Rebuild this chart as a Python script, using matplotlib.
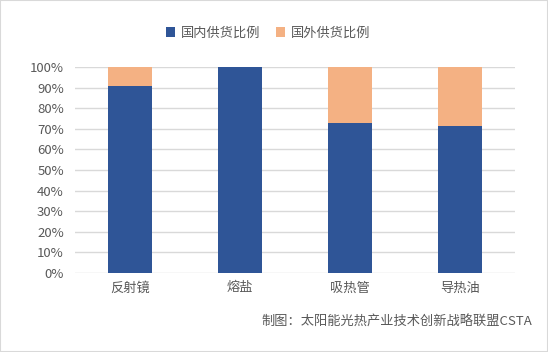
import matplotlib
matplotlib.use("Agg")
import matplotlib.pyplot as plt
from matplotlib.patches import Rectangle
from matplotlib.ticker import PercentFormatter

plt.rcParams['font.family'] = ['Noto Sans CJK SC', 'DejaVu Sans']

categories = ['反射镜', '熔盐', '吸热管', '导热油']
domestic = [91, 100, 73, 71.5]
foreign = [9, 0, 27, 28.5]
legend_labels = ['国内供货比例', '国外供货比例']

blue = '#2F5597'
orange = '#F4B183'
grey = '#595959'

fig = plt.figure(figsize=(5.48, 3.52), dpi=100)
ax = fig.add_axes([75 / 548, 1 - 273 / 352, 440 / 548, 206 / 352])

x = range(len(categories))
ax.bar(x, domestic, width=0.4, color=blue, label=legend_labels[0], zorder=2)
ax.bar(x, foreign, width=0.4, bottom=domestic, color=orange, label=legend_labels[1], zorder=2)

ax.set_xlim(-0.5, len(categories) - 0.5)
ax.set_ylim(0, 100)
ax.set_yticks(range(0, 101, 10))
ax.yaxis.set_major_formatter(PercentFormatter(decimals=0))
ax.set_xticks(list(x))
ax.set_xticklabels(categories)
ax.tick_params(axis='both', length=0, labelsize=9.5, colors=grey, pad=6)
ax.tick_params(axis='y', pad=8)
ax.grid(axis='y', color='#d9d9d9', linewidth=1, zorder=0)
for s in ax.spines.values():
    s.set_visible(False)

fig.legend(loc='center', bbox_to_anchor=(268 / 548, 1 - 33 / 352), ncol=2, frameon=False,
           fontsize=9.5, labelcolor=grey, handlelength=0.7, handleheight=0.7,
           handletextpad=0.4, columnspacing=1.2)

fig.text(532 / 548, 1 - 322 / 352, '制图：太阳能光热产业技术创新战略联盟CSTA',
         ha='right', va='center', fontsize=9.5, color=grey)

fig.patches.append(Rectangle((0, 0), 1, 1, transform=fig.transFigure, fill=False,
                             edgecolor='#d9d9d9', linewidth=1.5))

fig.savefig('out.png', dpi=100)
